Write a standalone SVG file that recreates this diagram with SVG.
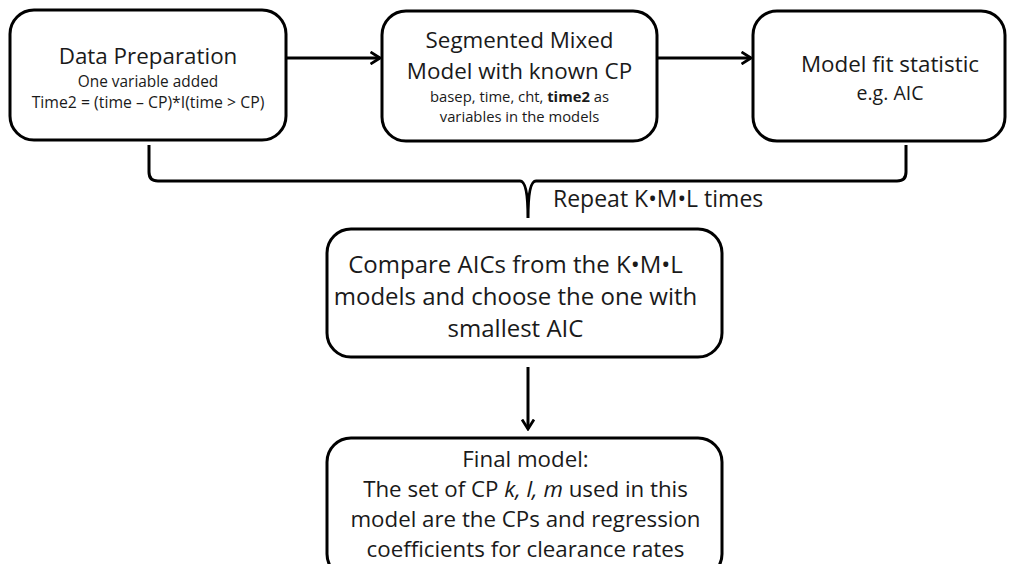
<svg xmlns="http://www.w3.org/2000/svg" width="1016" height="564" viewBox="0 0 1016 564">
<defs>
<style>
.box{fill:#fff;stroke:#000;stroke-width:3}
.ln{fill:none;stroke:#000;stroke-width:3}
text{font-family:"Open Sans","Liberation Sans",sans-serif;fill:#1a1a1a;text-anchor:middle}
.t{font-size:22.4px}
.s{font-size:15.4px}
.xs{font-size:14.8px}
.b{font-size:24px}
.f{font-size:22.3px}
</style>
<marker id="arr" viewBox="0 0 12 14" refX="10.5" refY="7" markerWidth="12" markerHeight="14" markerUnits="userSpaceOnUse" orient="auto">
<path d="M1,1 L10.5,7 L1,13" fill="none" stroke="#000" stroke-width="2.8"/>
</marker>
</defs>
<rect width="1016" height="564" fill="#fff"/>
<g id="connectors">
<line class="ln" x1="286" y1="58" x2="380" y2="58" marker-end="url(#arr)"/>
<line class="ln" x1="657" y1="58" x2="751" y2="58" marker-end="url(#arr)"/>
<line class="ln" x1="528" y1="367" x2="528" y2="429" marker-end="url(#arr)"/>
<path class="ln" d="M149,145 V172 Q149,181 158,181 H520 Q528,181 528,218 Q528,181 536,181 H897 Q906,181 906,172 V145"/>
<text x="553" y="207" style="font-size:23px;text-anchor:start">Repeat K•M•L times</text>
</g>
<g id="data-preparation">
<rect class="box" x="10" y="10" width="276" height="130" rx="24"/>
<text class="t" x="148" y="64">Data Preparation</text>
<text class="s" x="148" y="87">One variable added</text>
<text class="s" x="148" y="108" style="font-size:15.8px">Time2 = (time  – CP)*I(time &gt; CP)</text>
</g>
<g id="segmented-model">
<rect class="box" x="382" y="11" width="275" height="130" rx="24"/>
<text class="t" x="519.5" y="48">Segmented Mixed</text>
<text class="t" x="519.5" y="79">Model with known CP</text>
<text class="xs" x="519.5" y="102">basep, time, cht, <tspan font-weight="bold">time2</tspan> as</text>
<text class="xs" x="519.5" y="122">variables in the models</text>
</g>
<g id="model-fit">
<rect class="box" x="753" y="11" width="252" height="130" rx="24"/>
<text class="t" x="890" y="72">Model fit statistic</text>
<text x="890" y="100" style="font-size:19.5px">e.g. AIC</text>
</g>
<g id="compare">
<rect class="box" x="327" y="229" width="395" height="128" rx="24"/>
<text class="b" x="515.5" y="273">Compare AICs from the K•M•L</text>
<text class="b" x="515.5" y="305">models and choose the one with</text>
<text class="b" x="515.5" y="337">smallest AIC</text>
</g>
<g id="final-model">
<rect class="box" x="327" y="438" width="395" height="140" rx="24"/>
<text class="f" x="525.5" y="467">Final model:</text>
<text class="f" x="525.5" y="497">The set of CP <tspan font-style="italic">k, l, m</tspan> used in this</text>
<text class="f" x="525.5" y="527">model are the CPs and regression</text>
<text class="f" x="525.5" y="557">coefficients for clearance rates</text>
</g>
</svg>
